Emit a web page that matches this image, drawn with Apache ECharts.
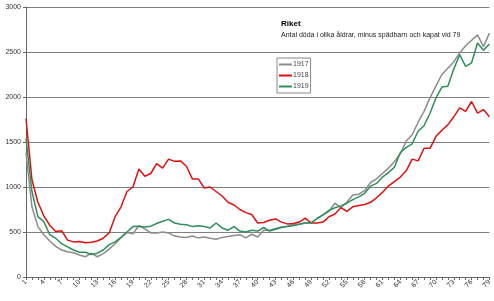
<!DOCTYPE html>
<html>
<head>
<meta charset="utf-8">
<script src="https://cdn.jsdelivr.net/npm/echarts@6/dist/echarts.min.js"></script>
<style>
  html, body { margin: 0; padding: 0; background: #fff; }
  #chart { width: 494px; height: 301px; }
</style>
</head>
<body>
<div id="chart"></div>
<script>
// ages 1..79
const ages = []
for (let a = 1; a <= 79; a++) ages.push(String(a))

const deaths1917 = [
  1380, 780, 560, 470, 400, 340, 300, 280, 270, 245,
  225, 265, 225, 260, 310, 370, 440, 495, 480, 570,
  535, 490, 490, 500, 490, 455, 445, 440, 455, 435,
  445, 430, 420, 440, 450, 460, 470, 435, 475, 445,
  520, 520, 540, 555, 565, 585, 590, 600, 605, 650,
  690, 730, 820, 770, 830, 910, 920, 960, 1050, 1090,
  1150, 1210, 1280, 1370, 1510, 1580, 1720, 1840, 1990, 2120,
  2250, 2320, 2390, 2490, 2570, 2630, 2690, 2560, 2710
]

const deaths1918 = [
  1760, 1080, 830, 680, 575, 505, 515, 410, 390, 395,
  380, 385, 400, 430, 490, 670, 780, 950, 1000, 1200,
  1120, 1150, 1260, 1210, 1310, 1285, 1290, 1230, 1090, 1090,
  990, 1000, 950, 900, 830, 800, 750, 715, 695, 600,
  605, 630, 645, 610, 590, 595, 610, 655, 600, 600,
  610, 670, 700, 770, 730, 780, 795, 805, 830, 880,
  940, 1010, 1060, 1110, 1180, 1310, 1290, 1430, 1430, 1560,
  1630, 1690, 1780, 1880, 1840, 1950, 1820, 1860, 1780
]

const deaths1919 = [
  1540, 950, 670, 615, 470, 430, 370, 335, 300, 275,
  275, 250, 265, 300, 360, 390, 440, 500, 560, 565,
  555, 565, 595, 620, 640, 600, 585, 580, 560, 570,
  560, 545, 600, 545, 520, 560, 510, 500, 520, 510,
  550, 510, 530, 550, 560, 570, 585, 600, 600, 650,
  690, 740, 770, 790, 820, 860, 890, 930, 1010, 1040,
  1110, 1160, 1220, 1380, 1440, 1480, 1620, 1680, 1820, 1990,
  2110, 2120, 2310, 2470, 2340, 2380, 2600, 2520, 2590
]

const chart = echarts.init(document.getElementById('chart'))

const lineSeries = (name, data, color) => ({
  name,
  type: 'line',
  data,
  symbol: 'none',
  lineStyle: { color, width: 1.5 },
  itemStyle: { color },
  animation: false
})

chart.setOption({
  backgroundColor: '#fff',
  textStyle: { fontFamily: 'Liberation Sans, Arial, sans-serif' },
  title: {
    text: 'Riket',
    subtext: 'Antal döda i olika åldrar, minus spädbarn och kapat vid 79',
    left: 281,
    top: 20,
    itemGap: 4,
    padding: 0,
    textStyle: { fontSize: 8, fontWeight: 'bold', color: '#000' },
    subtextStyle: { fontSize: 7, color: '#222' }
  },
  legend: {
    orient: 'vertical',
    left: 277,
    top: 58,
    padding: [3, 2, 3, 2],
    itemGap: 4,
    itemWidth: 13,
    itemHeight: 2,
    icon: 'rect',
    borderColor: '#888',
    borderWidth: 1,
    textStyle: { fontSize: 7, color: '#444', padding: [0, 0, 0, -4] },
    data: ['1917', '1918', '1919']
  },
  grid: { left: 26, right: 4, top: 7, bottom: 24, containLabel: false },
  xAxis: {
    type: 'category',
    data: ages,
    boundaryGap: false,
    axisLine: { lineStyle: { color: '#666', width: 1 } },
    axisTick: { interval: 0, length: 3, lineStyle: { color: '#666' } },
    axisLabel: { interval: 2, rotate: 45, fontSize: 7, color: '#333', margin: 4 },
    splitLine: { show: false }
  },
  yAxis: {
    type: 'value',
    min: 0,
    max: 3000,
    interval: 500,
    axisLine: { show: true, lineStyle: { color: '#666', width: 1 } },
    axisTick: { show: true, length: 3, lineStyle: { color: '#666' } },
    axisLabel: { fontSize: 7, color: '#333', margin: 5, formatter: v => String(v) },
    splitLine: { lineStyle: { color: '#808080', width: 1 } }
  },
  series: [
    lineSeries('1917', deaths1917, '#8c8c8c'),
    lineSeries('1918', deaths1918, '#dd1111'),
    lineSeries('1919', deaths1919, '#2f8f5b')
  ]
})
</script>
</body>
</html>
